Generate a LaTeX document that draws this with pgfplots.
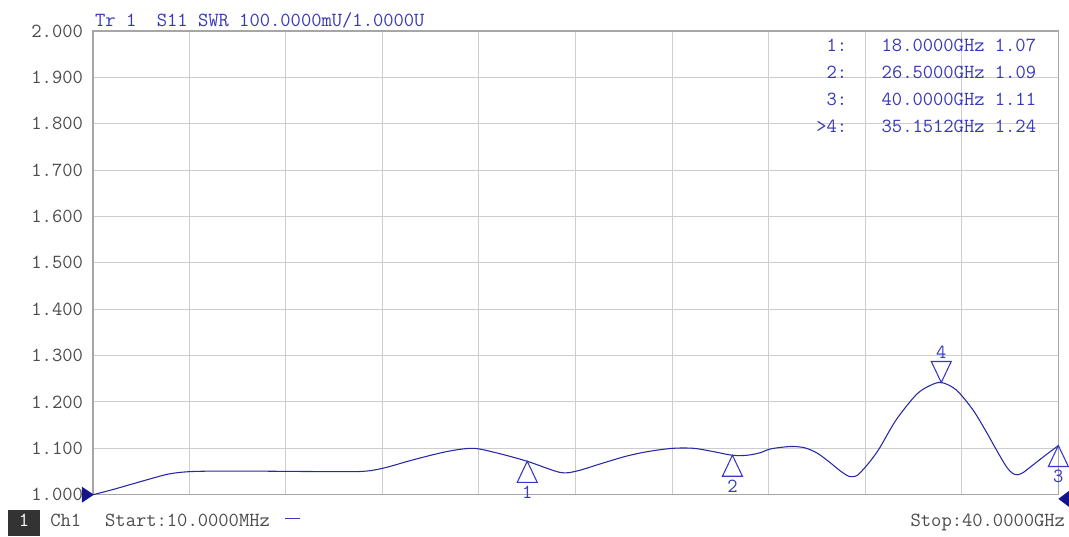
\documentclass[border=0pt]{standalone}
\usepackage{pgfplots}
\pgfplotsset{compat=1.18}
\definecolor{trace}{RGB}{40,40,165}
\definecolor{mkblue}{RGB}{55,55,200}
\definecolor{hdr}{RGB}{55,55,185}
\definecolor{ticktxt}{RGB}{75,75,75}
\definecolor{grd}{RGB}{205,205,205}
\definecolor{navy}{RGB}{20,20,140}
\newcommand{\vna}{\fontsize{15}{17}\selectfont\ttfamily}
\newcommand{\yl}[1]{\hbox{\fontsize{15}{17}\selectfont\ttfamily #1}}
\tikzset{
  mk/.style={anchor=east, font=\vna, text=hdr, inner sep=0pt},
  st/.style={anchor=base west, font=\vna, text=ticktxt, inner sep=0pt},
}

% marker triangles, apex on the trace point
\pgfdeclareplotmark{mkup}{%
  \pgfpathmoveto{\pgfpoint{0pt}{0pt}}%
  \pgfpathlineto{\pgfpoint{-7.5pt}{-15.75pt}}%
  \pgfpathlineto{\pgfpoint{7.5pt}{-15.75pt}}%
  \pgfpathclose\pgfusepathqstroke}
\pgfdeclareplotmark{mkdown}{%
  \pgfpathmoveto{\pgfpoint{0pt}{0pt}}%
  \pgfpathlineto{\pgfpoint{-7.5pt}{15.75pt}}%
  \pgfpathlineto{\pgfpoint{7.5pt}{15.75pt}}%
  \pgfpathclose\pgfusepathqstroke}
% start / stop pointers
\pgfdeclareplotmark{arrR}{%
  \pgfpathmoveto{\pgfpoint{0pt}{0pt}}%
  \pgfpathlineto{\pgfpoint{-9pt}{6pt}}%
  \pgfpathlineto{\pgfpoint{-9pt}{-6pt}}%
  \pgfpathclose\pgfusepathqfill}
\pgfdeclareplotmark{arrL}{%
  \pgfpathmoveto{\pgfpoint{0pt}{0pt}}%
  \pgfpathlineto{\pgfpoint{8pt}{6pt}}%
  \pgfpathlineto{\pgfpoint{8pt}{-6pt}}%
  \pgfpathclose\pgfusepathqfill}

\begin{document}
\begin{tikzpicture}
\begin{axis}[
    name=ax,
    scale only axis,
    width=724.5pt, height=348pt,
    xmin=0.01, xmax=40,
    ymin=1, ymax=2,
    xtick={4,8,12,16,20,24,28,32,36},
    xticklabels={},
    ytick={1,1.1,1.2,1.3,1.4,1.5,1.6,1.7,1.8,1.9,2},
    yticklabels={\yl{1.000},\yl{1.100},\yl{1.200},\yl{1.300},\yl{1.400},\yl{1.500},
                 \yl{1.600},\yl{1.700},\yl{1.800},\yl{1.900},\yl{2.000}},
    y tick label style={text=ticktxt, xshift=-4pt},
    grid=major,
    major grid style={draw=grd, line width=0.75pt},
    major tick length=0pt,
    axis line style={draw=gray!70, line width=0.9pt},
    clip=false,
]
  % S11 SWR trace (GHz, SWR)
  \addplot[trace, line width=0.8pt, smooth, tension=0.5] coordinates {
    (0.01,1.000) (0.83,1.011) (2.24,1.032) (3.19,1.045) (4.15,1.050)
    (6.00,1.051) (8.87,1.050) (11.07,1.050) (12.02,1.057) (13.26,1.075)
    (14.67,1.093) (15.75,1.100) (16.74,1.090) (18.00,1.072) (19.36,1.048)
    (20.05,1.051) (21.00,1.066) (22.10,1.083) (23.00,1.093) (24.03,1.100)
    (24.90,1.100) (25.70,1.093) (26.50,1.085) (27.10,1.085) (27.62,1.090)
    (28.03,1.098) (28.50,1.102) (29.00,1.104) (29.50,1.101) (30.00,1.090)
    (30.50,1.071) (31.00,1.050) (31.36,1.039) (31.65,1.041) (31.91,1.054)
    (32.25,1.075) (32.60,1.101) (33.29,1.162) (34.12,1.216) (34.67,1.235)
    (35.15,1.242) (35.77,1.226) (36.46,1.183) (37.01,1.136) (37.43,1.097)
    (37.84,1.061) (38.10,1.046) (38.32,1.043) (38.55,1.048) (38.80,1.058)
    (39.49,1.086) (40.00,1.106)
  };
  % markers
  \addplot[only marks, mark=mkup, mkblue, line width=0.8pt]
    coordinates {(18,1.072) (26.5,1.085) (40,1.106)};
  \addplot[only marks, mark=mkdown, mkblue, line width=0.8pt]
    coordinates {(35.15,1.242)};
  \addplot[only marks, mark=text, text mark={1}, text mark as node=true,
    text mark style={font=\vna, text=mkblue, yshift=-23.5pt}] coordinates {(18,1.072)};
  \addplot[only marks, mark=text, text mark={2}, text mark as node=true,
    text mark style={font=\vna, text=mkblue, yshift=-23.5pt}] coordinates {(26.5,1.085)};
  \addplot[only marks, mark=text, text mark={3}, text mark as node=true,
    text mark style={font=\vna, text=mkblue, yshift=-23.5pt}] coordinates {(40,1.106)};
  \addplot[only marks, mark=text, text mark={4}, text mark as node=true,
    text mark style={font=\vna, text=mkblue, yshift=22.5pt}] coordinates {(35.15,1.242)};
  % start / stop pointers
  \addplot[only marks, mark=arrR, navy] coordinates {(0.05,1.0)};
  \addplot[only marks, mark=arrL, navy] coordinates {(40,0.991)};

  % header
  \node[anchor=base west, font=\vna, text=hdr, inner sep=0pt]
    at (rel axis cs:0.002,1.0086) {Tr 1\ \ S11 SWR 100.0000mU/1.0000U};
  % marker table
  \node[mk] at (rel axis cs:0.7816,0.9698) {1:};
  \node[mk] at (rel axis cs:0.9772,0.9698) {18.0000GHz 1.07};
  \node[mk] at (rel axis cs:0.7816,0.9116) {2:};
  \node[mk] at (rel axis cs:0.9772,0.9116) {26.5000GHz 1.09};
  \node[mk] at (rel axis cs:0.7816,0.8534) {3:};
  \node[mk] at (rel axis cs:0.9772,0.8534) {40.0000GHz 1.11};
  \node[mk] at (rel axis cs:0.7816,0.7953) {>4:};
  \node[mk] at (rel axis cs:0.9772,0.7953) {35.1512GHz 1.24};
  % bottom status line
  \fill[black!80] (rel axis cs:-0.088,-0.032) rectangle (rel axis cs:-0.0549,-0.09);
  \node[anchor=base, font=\vna, text=white, inner sep=0pt]
    at (rel axis cs:-0.0714,-0.069) {1};
  \node[st] at (rel axis cs:-0.0445,-0.069) {Ch1};
  \node[st] at (rel axis cs:0.0124,-0.069) {Start:10.0000MHz};
  \draw[mkblue, line width=0.8pt] (rel axis cs:0.199,-0.0517) -- (rel axis cs:0.214,-0.0517);
  \node[anchor=base east, font=\vna, text=ticktxt, inner sep=0pt]
    at (rel axis cs:1.0072,-0.069) {Stop:40.0000GHz};
\end{axis}
\path[use as bounding box] ([xshift=-69.75pt,yshift=-26.25pt]ax.south west)
  rectangle ([xshift=7.5pt,yshift=23.25pt]ax.north east);
\end{tikzpicture}
\end{document}
